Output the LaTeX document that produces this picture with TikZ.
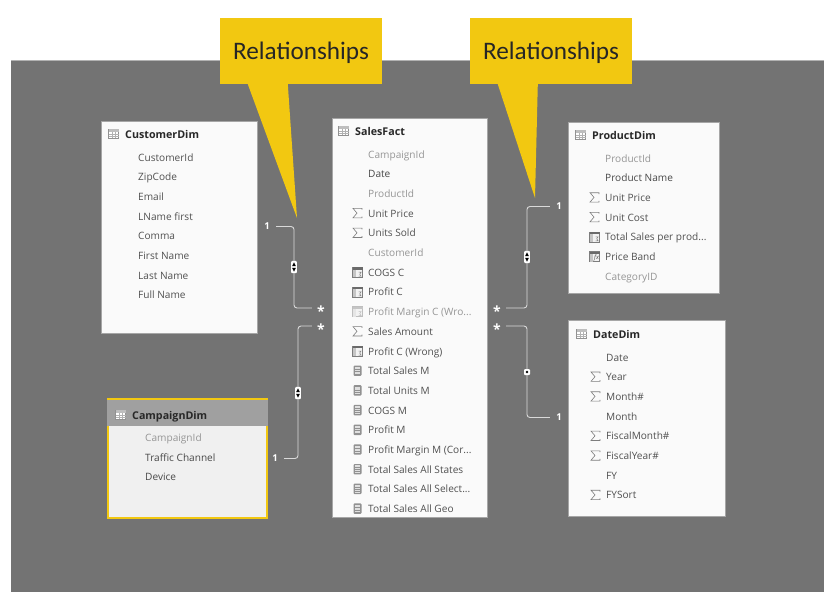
\documentclass[tikz,border=0pt]{standalone}
\usepackage{fontspec}
\setmainfont{Open Sans}
\newfontfamily\calloutfont{Carlito}
\usetikzlibrary{calc,positioning}
\definecolor{canvasgray}{RGB}{115,115,115}
\definecolor{cardwhite}{RGB}{250,250,250}
\definecolor{selectfill}{RGB}{240,240,240}
\definecolor{selecthead}{RGB}{160,160,160}
\definecolor{accentyellow}{RGB}{242,200,17}
\definecolor{headink}{RGB}{40,40,40}
\definecolor{fieldink}{RGB}{80,80,80}
\definecolor{hiddenink}{RGB}{150,150,150}
\definecolor{iconink}{RGB}{125,125,125}
\tikzset{
  tablebox/.style ={rectangle, anchor=north west, draw=black!35, fill=cardwhite, inner sep=0pt},
  tablehead/.style={anchor=west, inner sep=0pt, text=headink, text height=10pt, text depth=2pt,
                    font=\fontsize{10.7}{12}\selectfont\bfseries},
  fieldtext/.style={anchor=west, inner sep=0pt, text=fieldink, text height=10pt, text depth=2pt,
                    font=\fontsize{10.1}{12}\selectfont},
  fieldhidden/.style={fieldtext, text=hiddenink},
  fielddark/.style={fieldtext, text=headink!85},
  onemark/.style  ={inner sep=0pt, minimum width=18pt, minimum height=9pt, text=white,
                    font=\fontsize{9.5}{10}\selectfont\bfseries},
  manymark/.style ={inner sep=0pt, minimum width=18pt, text height=16pt, text depth=0pt, text=white,
                    font=\fontsize{14}{14}\selectfont\bfseries},
  rel/.style      ={draw=white!85!black, line width=0.9pt, rounded corners=3pt},
  callout/.style  ={rectangle, fill=accentyellow, minimum width=162pt, minimum height=66pt, inner sep=0pt,
                    text height=19pt, text depth=2pt, text=black!85,
                    font=\calloutfont\fontsize{25.2}{30}\selectfont},
  noicon/.pic     ={},
  tableicon/.pic  ={
    \draw[iconink!85, fill=white, line width=0.5pt] (-5,-4.5) rectangle (5,4.5);
    \fill[iconink!50] (-5,-4.5) rectangle (5,-2);
    \foreach \gx in {-1.7,1.7} \draw[iconink!60, line width=0.4pt] (\gx,-2) -- (\gx,4.5);
    \foreach \gy in {0.2,2.3} \draw[iconink!60, line width=0.4pt] (-5,\gy) -- (5,\gy);
  },
  sumicon/.pic    ={
    \draw[iconink, line width=0.6pt] (4.5,-3.4) -- (4.5,-4.7) -- (-4.5,-4.7) -- (-0.5,0) -- (-4.5,4.7) -- (4.5,4.7) -- (4.5,3.4);
  },
  calcicon/.pic   ={
    \fill[iconink!85, rounded corners=1pt] (-4,-5.2) rectangle (4,5.2);
    \fill[white!75!iconink] (-2.6,-3.8) rectangle (2.6,-1.8);
    \foreach \gy in {-0.6,1.2,3} \draw[white!75!iconink, line width=0.8pt] (-2.6,\gy) -- (2.6,\gy);
  },
  colicon/.pic    ={
    \draw[iconink, fill=white!90!iconink, line width=0.5pt] (-5,-5) rectangle (5,5);
    \fill[iconink!85!black] (-5,-5) rectangle (5,-2.6);
    \draw[iconink, line width=0.5pt] (1,0) -- (3.6,0) -- (2.2,2) -- (3.6,4) -- (1,4);
    \fill[iconink!45] (-5,-2.6) rectangle (-1.5,5);
  },
  fadeicon/.pic   ={
    \draw[iconink!50, fill=white!90!iconink, line width=0.5pt] (-5,-5) rectangle (5,5);
    \fill[iconink!45] (-5,-5) rectangle (5,-2.6);
    \draw[iconink!50, line width=0.5pt] (1,0) -- (3.6,0) -- (2.2,2) -- (3.6,4) -- (1,4);
    \fill[iconink!20] (-5,-2.6) rectangle (-1.5,5);
  },
  bandicon/.pic   ={
    \draw[iconink, fill=white!90!iconink, line width=0.5pt] (-5,-5) rectangle (5,5);
    \fill[iconink!85!black] (-5,-5) rectangle (5,-2.6);
    \fill[iconink!45] (-5,-2.6) rectangle (-1.5,5);
    \node[inner sep=0pt, text=black!70, font=\fontsize{6}{6}\selectfont\itshape] at (2,1.4) {fx};
  },
  twowaybadge/.pic={
    \fill[white, rounded corners=1pt] (-2.8,-6.2) rectangle (2.8,6.2);
    \fill[black] (-1.9,-0.9) -- (1.9,-0.9) -- (0,-4.6) -- cycle;
    \fill[black] (-1.9,0.9) -- (1.9,0.9) -- (0,4.6) -- cycle;
  },
  onewaybadge/.pic={
    \fill[white, rounded corners=1pt] (-3,-3) rectangle (3,3);
    \fill[black] (0,0) circle[radius=1.4pt];
  }
}
% #1 prefix, #2 text x, #3 first y, #4 icon/tone/text rows
\newcommand{\fieldlist}[4]{
  \foreach \kind/\tone/\txt [count=\i from 0] in {#4} {
    \node[\tone] (#1f\i) at (#2,{#3+19.7*\i}) {\txt};
    \path ($(#1f\i.west)+(-10.5,0)$) pic {\kind};
  }
}

\begin{document}
\begin{tikzpicture}[x=1pt, y=-1pt]
  \useasboundingbox (0,0) rectangle (837,603);
  \fill[canvasgray] (11,60) rectangle (824,592);
  \draw[black!30, line width=0.8pt] (11,60) -- (824,60);

  % tables
  \node[tablebox, minimum width=156pt, minimum height=212pt] (cust) at (101,120.6) {};
  \node[tablebox, minimum width=155pt, minimum height=399pt] (sales) at (332,117.6) {};
  \node[tablebox, minimum width=151pt, minimum height=171pt] (prod) at (568,121.6) {};
  \node[tablebox, minimum width=157pt, minimum height=196pt] (date) at (568,319.6) {};
  \node[tablebox, draw=accentyellow, line width=2pt, fill=selectfill, minimum width=159pt, minimum height=118pt] (camp) at (107,399) {};
  \fill[selecthead] (camp.north west) rectangle ($(camp.north east)+(0,27)$);
  \draw[accentyellow, line width=2pt] (camp.north west) -- (camp.north east);

  % table titles
  \node[tablehead] (custhead) at (125,134) {CustomerDim};
  \node[tablehead] (saleshead) at (355,131) {SalesFact};
  \node[tablehead] (prodhead) at (592,135) {ProductDim};
  \node[tablehead] (datehead) at (593,334) {DateDim};
  \node[tablehead] (camphead) at (132,415) {CampaignDim};
  \foreach \head in {custhead,saleshead,prodhead,datehead,camphead}
    \path ($(\head.west)+(-11.5,-0.5)$) pic {tableicon};

  \fieldlist{cust}{138}{157}{noicon/fieldtext/CustomerId, noicon/fieldtext/ZipCode, noicon/fieldtext/Email,
    noicon/fieldtext/LName first, noicon/fieldtext/Comma, noicon/fieldtext/First Name,
    noicon/fieldtext/Last Name, noicon/fieldtext/Full Name}
  \fieldlist{camp}{145}{437.5}{noicon/fieldhidden/CampaignId, noicon/fielddark/Traffic Channel, noicon/fielddark/Device}
  \fieldlist{sales}{368}{154}{noicon/fieldhidden/CampaignId, noicon/fielddark/Date, noicon/fieldhidden/ProductId,
    sumicon/fieldtext/Unit Price, sumicon/fieldtext/Units Sold, noicon/fieldhidden/CustomerId,
    colicon/fieldtext/COGS C, colicon/fieldtext/Profit C, fadeicon/fieldhidden/{Profit Margin C (Wro...},
    sumicon/fieldtext/Sales Amount, colicon/fieldtext/Profit C (Wrong), calcicon/fieldtext/Total Sales M,
    calcicon/fieldtext/Total Units M, calcicon/fieldtext/COGS M, calcicon/fieldtext/Profit M,
    calcicon/fieldtext/{Profit Margin M (Cor...}, calcicon/fieldtext/Total Sales All States,
    calcicon/fieldtext/{Total Sales All Select...}, calcicon/fieldtext/Total Sales All Geo}
  \fieldlist{prod}{605}{158}{noicon/fieldhidden/ProductId, noicon/fielddark/Product Name, sumicon/fieldtext/Unit Price,
    sumicon/fieldtext/Unit Cost, colicon/fieldtext/{Total Sales per prod...}, bandicon/fieldtext/Price Band,
    noicon/fieldhidden/CategoryID}
  \fieldlist{date}{606}{357}{noicon/fieldtext/Date, sumicon/fieldtext/Year, sumicon/fieldtext/Month\#,
    noicon/fieldtext/Month, sumicon/fieldtext/FiscalMonth\#, sumicon/fieldtext/FiscalYear\#,
    noicon/fieldtext/FY, sumicon/fieldtext/FYSort}

  % cardinality marks
  \node[onemark] (onecust) at (267,226.5) {1};
  \node[manymark] (manycust) at (321,308) {*};
  \node[onemark] (onecamp) at (275,458.5) {1};
  \node[manymark] (manycamp) at (321,326) {*};
  \node[onemark] (oneprod) at (559,206.5) {1};
  \node[manymark] (manyprod) at (497,308) {*};
  \node[onemark] (onedate) at (559,417.5) {1};
  \node[manymark] (manydate) at (497,326) {*};

  \coordinate (bendcust) at (294,267);
  \coordinate (bendcamp) at (298,393);
  \coordinate (bendprod) at (527,257);
  \coordinate (benddate) at (527,372);

  \draw[rel] (onecust.east) -| (bendcust) |- (manycust.west);
  \draw[rel] (onecamp.east) -| (bendcamp) |- (manycamp.west);
  \draw[rel] (oneprod.west) -| (bendprod) |- (manyprod.east);
  \draw[rel] (onedate.west) -| (benddate) |- (manydate.east);

  \path (bendcust) pic {twowaybadge};
  \path (bendcamp) pic {twowaybadge};
  \path (bendprod) pic {twowaybadge};
  \path (benddate) pic {onewaybadge};

  % callouts
  \node[callout] (relleft) at (301,51) {Relationships};
  \node[callout] (relright) at (551,51) {Relationships};
  \coordinate (tipleft) at (297,218);
  \coordinate (tipright) at (535,198);
  \fill[accentyellow] ($(relleft.south west)+(28,0)$) -- (tipleft) -- ($(relleft.south west)+(68,0)$) -- cycle;
  \fill[accentyellow] ($(relright.south west)+(28,0)$) -- (tipright) -- ($(relright.south west)+(68,0)$) -- cycle;
\end{tikzpicture}
\end{document}
